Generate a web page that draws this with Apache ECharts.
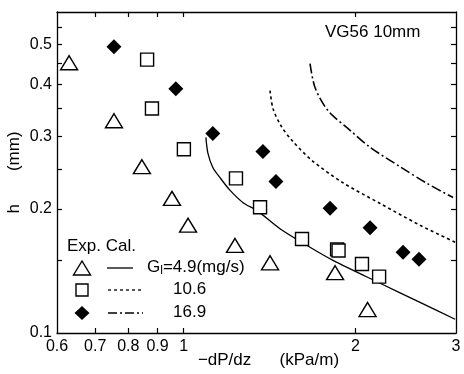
<!DOCTYPE html>
<html>
<head>
<meta charset="utf-8">
<script src="https://cdn.jsdelivr.net/npm/echarts@6/dist/echarts.min.js"></script>
<style>
  html, body { margin: 0; padding: 0; background: #fff; }
  #chart { width: 464px; height: 374px; }
</style>
</head>
<body>
<div id="chart"></div>
<script>
// Experimental points: [-dP/dz (kPa/m), h (mm)]
const expG49 = [[0.630, 0.452], [0.755, 0.327], [0.845, 0.253], [0.954, 0.212], [1.018, 0.1825],
                [1.230, 0.163], [1.417, 0.148], [1.842, 0.140], [2.10, 0.114]];
const expG106 = [[0.863, 0.460], [0.880, 0.350], [1.001, 0.279], [1.235, 0.237], [1.361, 0.2017],
                 [1.612, 0.169], [1.857, 0.1595], [1.868, 0.1585], [2.053, 0.147], [2.200, 0.137]];
const expG169 = [[0.755, 0.494], [0.969, 0.391], [1.125, 0.3045], [1.377, 0.2755], [1.451, 0.233],
                 [1.805, 0.2006], [2.121, 0.180], [2.423, 0.157], [2.584, 0.151]];

// Calculated curves
const calG49 = [[1.094, 0.298], [1.103, 0.2725], [1.125, 0.252], [1.158, 0.238], [1.205, 0.222],
                [1.271, 0.207], [1.345, 0.198], [1.475, 0.179], [1.645, 0.163], [1.827, 0.150],
                [2.209, 0.132], [2.584, 0.119], [2.989, 0.108]];
const calG106 = [[1.417, 0.387], [1.434, 0.350], [1.481, 0.318], [1.548, 0.293], [1.678, 0.262],
                 [1.895, 0.232], [2.209, 0.206], [2.595, 0.1825], [2.989, 0.166]];
const calG169 = [[1.665, 0.450], [1.699, 0.3935], [1.790, 0.346], [1.957, 0.310], [2.121, 0.282],
                 [2.394, 0.253], [2.669, 0.2305], [2.965, 0.213]];

// Axis ticks and labels
const xLabelValues = [0.6, 0.7, 0.8, 0.9, 1, 2, 3];
const xTickValues = [0.7, 0.8, 0.9, 1, 2];
const yLabelValues = [0.1, 0.2, 0.3, 0.4, 0.5];
const yTickValues = [0.15, 0.2, 0.25, 0.3, 0.35, 0.4, 0.45, 0.5, 0.55];

// Legend rows
const legendRows = ['4.9', '10.6', '16.9'];

const FONT = '"Liberation Sans", Arial, Helvetica, sans-serif';
const INK = '#000';

const axisLineStyle = { lineStyle: { color: INK, width: 1.3 } };

function xAxisDef(pos, showLabels) {
  return {
    type: 'log', logBase: 10, min: 0.6, max: 3, position: pos,
    axisLine: axisLineStyle,
    axisTick: { show: true, inside: true, length: 5, customValues: xTickValues,
                lineStyle: { color: INK, width: 1.2 } },
    axisLabel: showLabels ? {
      show: true, customValues: xLabelValues, margin: 6,
      color: INK, fontFamily: FONT, fontSize: 16,
      formatter: v => String(+v.toFixed(2))
    } : { show: false },
    splitLine: { show: false }, minorTick: { show: false }
  };
}
function yAxisDef(pos, showLabels) {
  return {
    type: 'log', logBase: 10, min: 0.1, max: 0.6, position: pos,
    axisLine: axisLineStyle,
    axisTick: { show: true, inside: true, length: 5, customValues: yTickValues,
                lineStyle: { color: INK, width: 1.2 } },
    axisLabel: showLabels ? {
      show: true, customValues: yLabelValues, margin: 5,
      color: INK, fontFamily: FONT, fontSize: 16,
      formatter: v => String(+v.toFixed(2))
    } : { show: false },
    splitLine: { show: false }, minorTick: { show: false }
  };
}

const xBottom = xAxisDef('bottom', true);
xBottom.name = '\u2212dP/dz      (kPa/m)';
xBottom.nameLocation = 'middle';
xBottom.nameGap = 19;
xBottom.nameMoveOverlap = false;
xBottom.nameTextStyle = { color: INK, fontFamily: FONT, fontSize: 17, padding: [0, 0, 0, 24] };

const yLeft = yAxisDef('left', true);
yLeft.name = 'h       (mm)';
yLeft.nameLocation = 'middle';
yLeft.nameGap = 34;
yLeft.nameMoveOverlap = false;
yLeft.nameTextStyle = { color: INK, fontFamily: FONT, fontSize: 17 };

const hollow = { color: '#fff', borderColor: INK, borderWidth: 1.4, opacity: 1 };

const option = {
  backgroundColor: '#fff',
  animation: false,
  grid: { left: 57, right: 8, top: 12, bottom: 41, containLabel: false, outerBoundsMode: 'none' },
  xAxis: [xBottom, xAxisDef('top', false)],
  yAxis: [yLeft, yAxisDef('right', false)],
  series: [
    { name: 'cal49', type: 'line', data: calG49, smooth: 0.3, symbol: 'none',
      lineStyle: { color: INK, width: 1.3 }, z: 2 },
    { name: 'cal106', type: 'line', data: calG106, smooth: 0.3, symbol: 'none',
      lineStyle: { color: INK, width: 1.6, type: [3, 3] }, z: 2 },
    { name: 'cal169', type: 'line', data: calG169, smooth: 0.3, symbol: 'none',
      lineStyle: { color: INK, width: 1.6, type: [10, 3, 2, 3] }, z: 2 },
    { name: 'exp49', type: 'scatter', data: expG49, symbol: 'triangle', symbolSize: [17, 14],
      itemStyle: hollow, z: 3 },
    { name: 'exp106', type: 'scatter', data: expG106, symbol: 'rect', symbolSize: [13, 13],
      itemStyle: hollow, z: 3 },
    { name: 'exp169', type: 'scatter', data: expG169, symbol: 'diamond', symbolSize: [15, 15],
      itemStyle: { color: INK, opacity: 1 }, z: 3 }
  ],
  graphic: [
    { type: 'text', left: 325, top: 24,
      style: { text: 'VG56 10mm', fontFamily: FONT, fontSize: 17, fill: INK } },
    { type: 'text', left: 67, top: 238,
      style: { text: 'Exp. Cal.', fontFamily: FONT, fontSize: 17, fill: INK } },
    // row 1: triangle + solid
    { type: 'polygon', shape: { points: [[82, 261], [73.5, 275], [90.5, 275]] },
      style: { fill: '#fff', stroke: INK, lineWidth: 1.4 } },
    { type: 'line', shape: { x1: 107, y1: 268, x2: 133, y2: 268 },
      style: { stroke: INK, lineWidth: 1.3 } },
    { type: 'text', left: 147, top: 259,
      style: { rich: {
        a: { fontFamily: FONT, fontSize: 17, fill: INK },
        s: { fontFamily: FONT, fontSize: 12, fill: INK, verticalAlign: 'bottom', padding: [6, 0, 0, 0] }
      }, text: '{a|G}{s|l}{a|=' + legendRows[0] + '(mg/s)}' } },
    // row 2: square + short dashes
    { type: 'rect', shape: { x: 76, y: 284, width: 12, height: 12 },
      style: { fill: '#fff', stroke: INK, lineWidth: 1.4 } },
    { type: 'line', shape: { x1: 108, y1: 290, x2: 143, y2: 290 },
      style: { stroke: INK, lineWidth: 1.3, lineDash: [3, 3] } },
    { type: 'text', left: 173, top: 281,
      style: { text: legendRows[1], fontFamily: FONT, fontSize: 17, fill: INK } },
    // row 3: diamond + dash-dot
    { type: 'polygon', shape: { points: [[82, 306], [89.5, 313], [82, 320], [74.5, 313]] },
      style: { fill: INK } },
    { type: 'line', shape: { x1: 108, y1: 313, x2: 143, y2: 313 },
      style: { stroke: INK, lineWidth: 1.3, lineDash: [9, 3, 2, 3] } },
    { type: 'text', left: 173, top: 304,
      style: { text: legendRows[2], fontFamily: FONT, fontSize: 17, fill: INK } }
  ]
};

const chart = echarts.init(document.getElementById('chart'), null, { renderer: 'canvas' });
chart.setOption(option);
</script>
</body>
</html>
